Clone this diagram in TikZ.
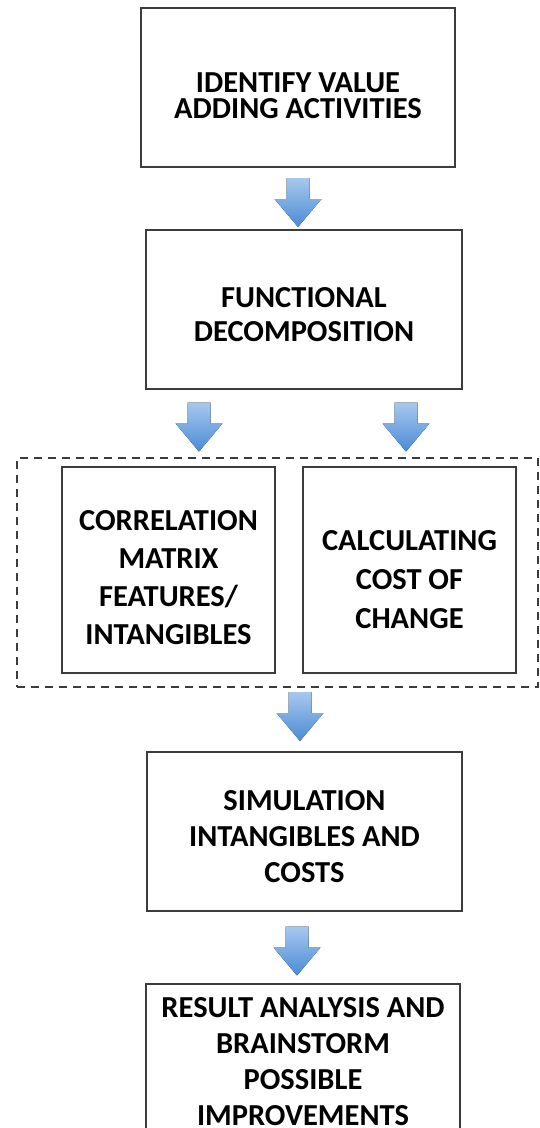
\documentclass[tikz,border=0pt]{standalone}
\usepackage{fontspec}
\setmainfont{Carlito}
\usepackage{xcolor}
\definecolor{bxline}{HTML}{3C3C3C}
\definecolor{arrtop}{HTML}{A7C8EE}
\definecolor{arrbot}{HTML}{4A8BD5}
\usetikzlibrary{calc,shadows}

\begin{document}
\begin{tikzpicture}[x=1pt,y=-1pt]
\tikzset{
 box/.style={draw=bxline,line width=1.4pt,fill=white,inner sep=0pt,
  drop shadow={shadow xshift=1.2pt,shadow yshift=-1.2pt,opacity=.3}},
 txt/.style={align=center,inner sep=0pt,font=\bfseries\fontsize{30.5}{#1}\selectfont},
 txt/.default=36,
 grp/.style={draw=bxline,line width=1.5pt,dash pattern=on 8pt off 6pt,inner sep=0pt},
 barr/.pic={\fill[top color=arrtop,bottom color=arrbot]
  (-11.5,-24.5) -- (11.5,-24.5) -- (11.5,-3.5) -- (23.5,-3.5) -- (0,24.5)
  -- (-23.5,-3.5) -- (-11.5,-3.5) -- cycle;}
}
\useasboundingbox (0,0) rectangle (540,1128);
\fill[white] (0,0) rectangle (540,1128);

\node[box,minimum width=314pt,minimum height=159pt] (idv) at (298,87.5) {};
\node[box,minimum width=316pt,minimum height=159pt] (fdec) at (304,309.5) {};
\node[grp,minimum width=521pt,minimum height=229pt] (grp) at (277.5,572.5) {};
\node[box,minimum width=213pt,minimum height=206pt] (corr) at (168.5,570) {};
\node[box,minimum width=213pt,minimum height=206pt] (cost) at (409.5,570) {};
\node[box,minimum width=315pt,minimum height=159pt] (sim) at (304.5,831.5) {};
\node[box,minimum width=314pt,minimum height=155pt] (res) at (303,1061.5) {};

% step texts, a bit below the box centres
\node[txt=26.5] (idvt) at ($(idv)+(0,8)$) {IDENTIFY VALUE\\ADDING ACTIVITIES};
\node[txt=34] (fdect) at ($(fdec)+(0,5)$) {FUNCTIONAL\\DECOMPOSITION};
\node[txt=38] (corrt) at ($(corr)+(0,8)$) {CORRELATION\\MATRIX\\FEATURES/\\INTANGIBLES};
\node[txt=39] (costt) at ($(cost)+(0,9.5)$) {CALCULATING\\COST OF\\CHANGE};
\node[txt] (simt) at ($(sim)+(0,5)$) {SIMULATION\\INTANGIBLES AND\\COSTS};
\node[txt] (rest) at (res) {RESULT ANALYSIS AND\\BRAINSTORM\\POSSIBLE\\IMPROVEMENTS};

% block arrows between the steps
\foreach \s/\t/\dx/\dy in {idv/fdec/-6/4,fdec/corr/30.5/-1,fdec/cost/-3.5/-1,grp/sim/-4.5/-3,sim/res/-6/3.5}{
 \pic at ($(\s.south -| \t.north)!.5!(\t.north)+(\dx,\dy)$) {barr};}
\end{tikzpicture}
\end{document}
